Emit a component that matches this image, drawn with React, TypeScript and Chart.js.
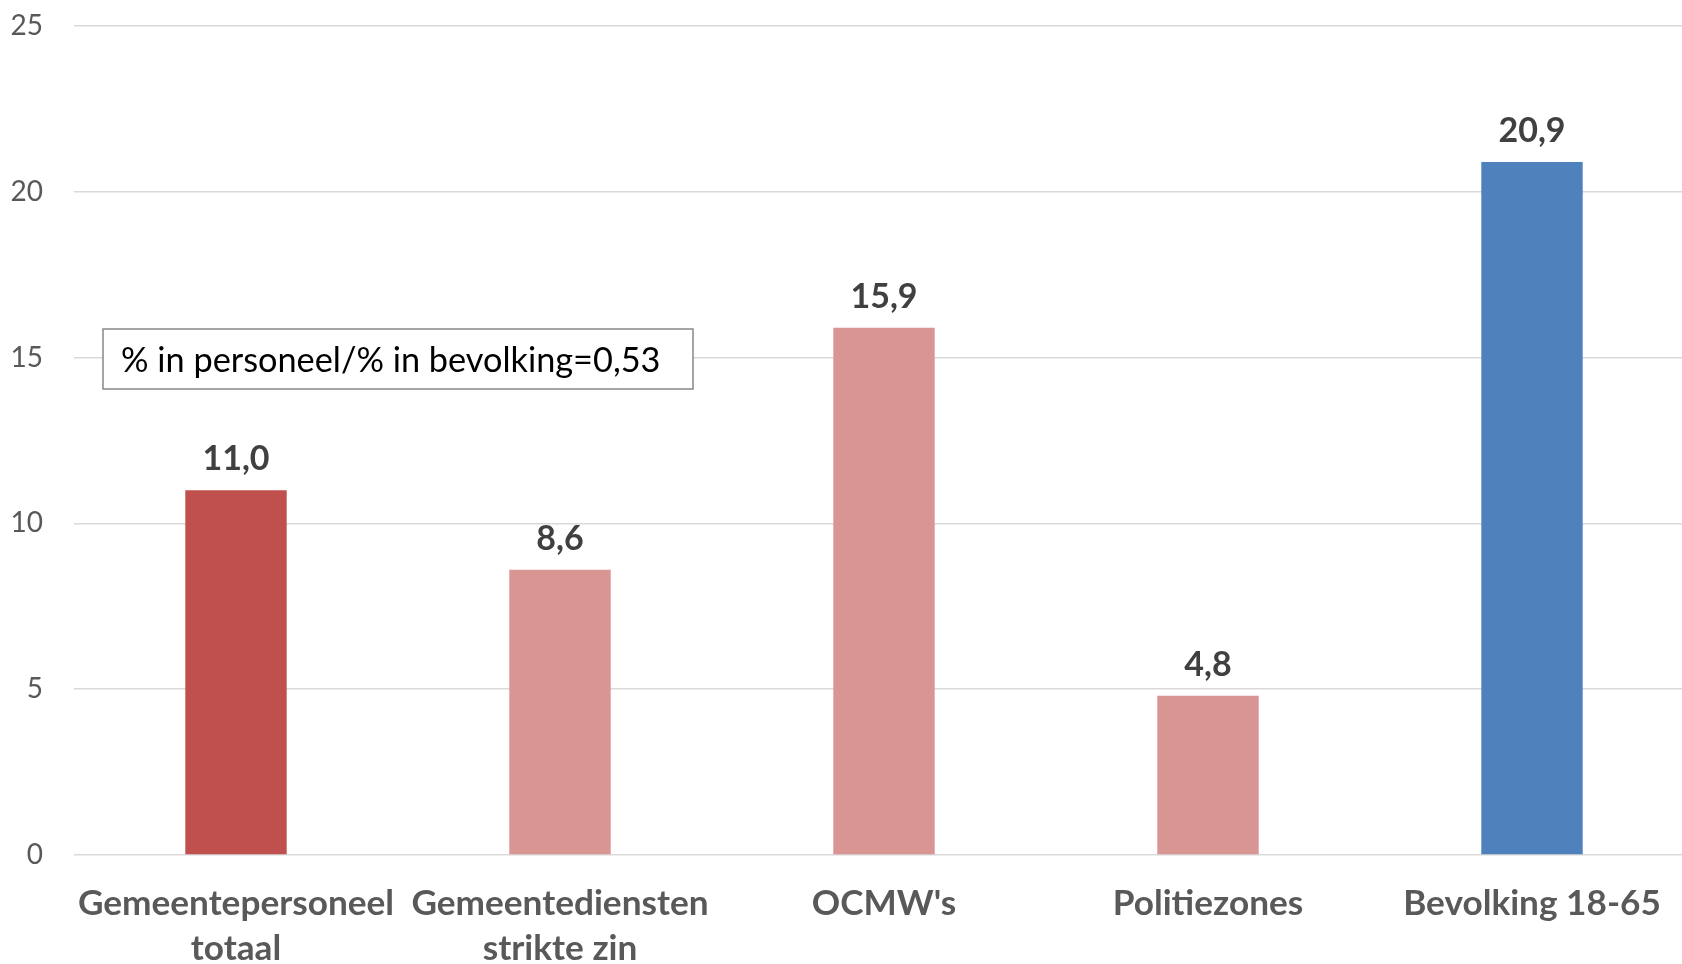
import React, { useEffect, useRef } from "react";
import { Chart, registerables } from "chart.js";

Chart.register(...registerables);

const categories: (string | string[])[] = [
  ["Gemeentepersoneel", "totaal"],
  ["Gemeentediensten", "strikte zin"],
  "OCMW's",
  "Politiezones",
  "Bevolking 18-65",
];
const values: number[] = [11.0, 8.6, 15.9, 4.8, 20.9];
const barColors: string[] = ["#C0504D", "#D99594", "#D99594", "#D99594", "#4F81BD"];
const yMin = 0;
const yMax = 25;
const yStep = 5;
const noteText = "% in personeel/% in bevolking=0,53";

const FAMILY = "Lato, 'Open Sans', sans-serif";

function fitSize(text: string, weight: string, target: number): number {
  const c = document.createElement("canvas").getContext("2d")!;
  c.font = `${weight} 100px ${FAMILY}`;
  const w = c.measureText(text).width;
  return Math.round((100 * target) / w * 10) / 10;
}

const fmt = (v: number) => v.toFixed(1).replace(".", ",");

export default function App() {
  const ref = useRef<HTMLCanvasElement | null>(null);

  useEffect(() => {
    const canvas = ref.current!;
    const xSize = fitSize("Gemeentepersoneel", "bold", 316);
    const ySize = 28;
    const vSize = 34;
    const nSize = fitSize(noteText, "normal", 540);

    const valueLabels = {
      id: "valueLabels",
      afterDatasetsDraw(chart: any) {
        const ctx = chart.ctx;
        const meta = chart.getDatasetMeta(0);
        ctx.save();
        ctx.font = `bold ${vSize}px ${FAMILY}`;
        ctx.fillStyle = "#404040";
        ctx.textAlign = "center";
        ctx.textBaseline = "alphabetic";
        meta.data.forEach((bar: any, i: number) => {
          ctx.fillText(fmt(values[i]), bar.x, bar.y - 20);
        });
        ctx.restore();
      },
    };

    const noteBox = {
      id: "noteBox",
      afterDraw(chart: any) {
        const ctx = chart.ctx;
        const left = chart.chartArea.left + 29;
        const top = 329;
        const w = 590;
        const h = 60;
        ctx.save();
        ctx.fillStyle = "#ffffff";
        ctx.fillRect(left, top, w, h);
        ctx.strokeStyle = "#888888";
        ctx.lineWidth = 1.5;
        ctx.strokeRect(left, top, w, h);
        ctx.font = `${nSize}px ${FAMILY}`;
        ctx.fillStyle = "#000000";
        ctx.textAlign = "left";
        ctx.textBaseline = "middle";
        ctx.fillText(noteText, left + 18, top + h / 2 + 2);
        ctx.restore();
      },
    };

    const chart = new Chart(canvas, {
      type: "bar",
      data: {
        labels: categories,
        datasets: [
          {
            data: values,
            backgroundColor: barColors,
            barPercentage: 0.626,
            categoryPercentage: 0.5,
          },
        ],
      },
      options: {
        animation: false,
        responsive: false,
        maintainAspectRatio: false,
        layout: { padding: { top: 26, right: 6, left: 0, bottom: 0 } },
        plugins: {
          legend: { display: false },
          tooltip: { enabled: false },
        },
        scales: {
          x: {
            grid: { display: false, drawTicks: false },
            border: { display: false },
            ticks: {
              color: "#595959",
              font: { family: FAMILY, size: xSize, weight: "bold", lineHeight: 45 / xSize },
              padding: 26,
              maxRotation: 0,
              autoSkip: false,
            },
            afterFit: (s: any) => {
              s.height = 109;
            },
          },
          y: {
            min: yMin,
            max: yMax,
            ticks: {
              stepSize: yStep,
              color: "#595959",
              font: { family: FAMILY, size: ySize },
              padding: 31,
            },
            grid: { color: "#d9d9d9", lineWidth: 1.5, drawTicks: false },
            border: { display: false },
            afterFit: (s: any) => {
              s.width = 74;
              s.paddingTop = 0;
              s.paddingBottom = 0;
            },
          },
        },
      },
      plugins: [valueLabels, noteBox],
    } as any);

    return () => chart.destroy();
  }, []);

  return (
    <div
      style={{
        position: "absolute",
        left: 0,
        top: 0,
        width: 1682,
        height: 964,
        overflow: "hidden",
        background: "#ffffff",
      }}
    >
      <canvas ref={ref} width={1700} height={964} style={{ display: "block" }} />
    </div>
  );
}
